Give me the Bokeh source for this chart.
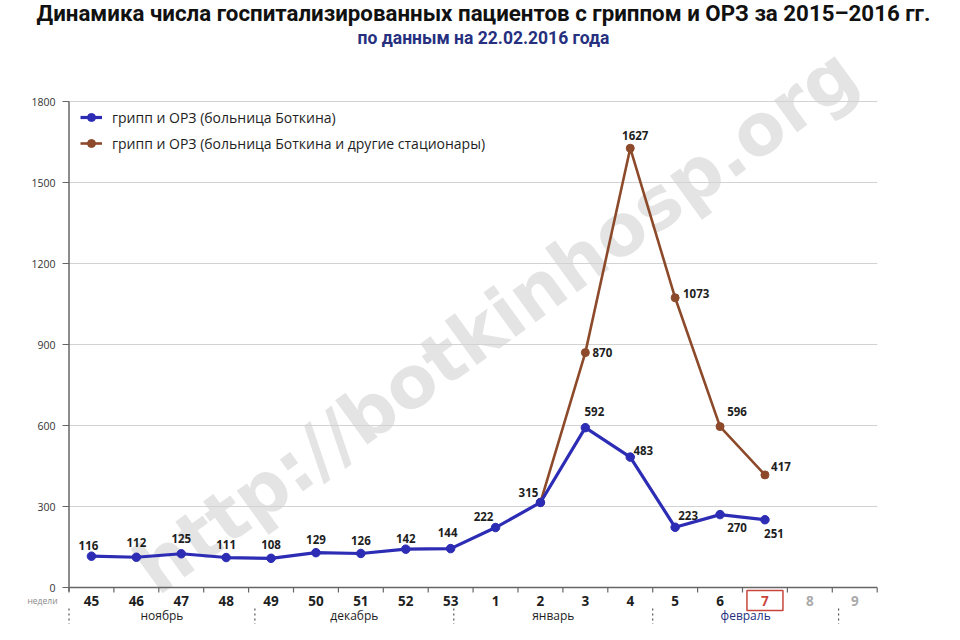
import math
from bokeh.plotting import figure
from bokeh.models import Range1d, Legend, LegendItem
from bokeh.core.properties import value
from bokeh.embed import file_html
from bokeh.resources import INLINE

# ---------------- data ----------------
week_labels = ["45", "46", "47", "48", "49", "50", "51", "52", "53",
               "1", "2", "3", "4", "5", "6", "7", "8", "9"]
botkin_values = [116, 112, 125, 111, 108, 129, 126, 142, 144,
                 222, 315, 592, 483, 223, 270, 251]
combined_weeks = ["2", "3", "4", "5", "6", "7"]
combined_values = [315, 870, 1627, 1073, 596, 417]
y_ticks = [0, 300, 600, 900, 1200, 1500, 1800]
month_names = ["ноябрь", "декабрь", "январь", "февраль"]
month_bounds = [0, 4.14, 8.57, 13.0, 17.14]   # in week units
current_week = "7"
future_weeks = ["8", "9"]

title_text = "Динамика числа госпитализированных пациентов с гриппом и ОРЗ за 2015–2016 гг."
subtitle_text = "по данным на 22.02.2016 года"
legend_labels = ["грипп и ОРЗ (больница Боткина)",
                 "грипп и ОРЗ (больница Боткина и другие стационары)"]

# ---------------- styles / layout ----------------
BLUE = "#2c2cb4"
BROWN = "#8d4a2b"
NAVY = "#26307f"
RED = "#c9453b"
W, H = 944, 624
X0, SLOT = 68.5, 44.9          # pixel of the first week boundary, pixels per week
Y0, Y1800 = 587.0, 101.0       # pixel of value 0 and of value 1800
YSC = (Y0 - Y1800) / 1800.0


def rx(px):  # canvas x pixel -> data x
    return (px - X0) / SLOT


def ry(py):  # canvas y pixel -> data y
    return (Y0 - py) / YSC


p = figure(width=W, height=H, output_backend="svg", toolbar_location=None,
           x_range=Range1d(rx(0), rx(W)), y_range=Range1d(ry(H), ry(0)),
           x_axis_location=None, y_axis_location=None, min_border=0)
p.grid.visible = False
p.outline_line_color = None
p.background_fill_color = "white"

idx = {w: i for i, w in enumerate(week_labels)}
nslots = len(week_labels)

# watermark
p.text(x=[rx(495)], y=[ry(320)], text=["http://botkinhosp.org"], angle=math.radians(36),
       text_align="center", text_baseline="middle", text_font=value("DejaVu Sans"),
       text_font_style="bold", text_font_size="72px", text_color="#e4e4e4")

# grid lines
grid_vals = [t for t in y_ticks if t > 0]
p.segment(x0=[0] * len(grid_vals), x1=[nslots] * len(grid_vals), y0=grid_vals, y1=grid_vals,
          line_color="#d2d2d2", line_width=1.2)

# y axis
p.segment(x0=[0], x1=[0], y0=[y_ticks[-1]], y1=[ry(Y0 + 4)], line_color="#666666", line_width=1.5)
p.segment(x0=[rx(62)] * len(y_ticks), x1=[0] * len(y_ticks), y0=y_ticks, y1=y_ticks,
          line_color="#666666", line_width=1.2)
p.text(x=[rx(55)] * len(y_ticks), y=y_ticks, text=[str(t) for t in y_ticks],
       text_align="right", text_baseline="middle", text_font=value("Open Sans"),
       text_font_size="10.5px", text_color="#333333")

# x axis
p.segment(x0=[0], x1=[nslots], y0=[0], y1=[0], line_color="#666666", line_width=1.5)
bx = list(range(nslots + 1))
p.segment(x0=bx, x1=bx, y0=[0] * len(bx), y1=[ry(Y0 + 5)] * len(bx),
          line_color="#666666", line_width=1.2)
week_colors = [RED if w == current_week else ("#aaaaaa" if w in future_weeks else "#1e1e1e")
               for w in week_labels]
WEEK_Y = Y0 + 13
p.text(x=[i + 0.5 for i in range(nslots)], y=[ry(WEEK_Y)] * nslots, text=week_labels,
       text_align="center", text_baseline="middle", text_font=value("Open Sans"),
       text_font_style="bold", text_font_size="13.5px", text_color=week_colors)
cw = idx[current_week] + 0.5
p.quad(left=[cw - 18 / SLOT], right=[cw + 18 / SLOT], top=[ry(WEEK_Y - 10)],
       bottom=[ry(WEEK_Y + 10)], fill_color=None, line_color=RED, line_width=1.5)
p.text(x=[rx(42)], y=[ry(WEEK_Y)], text=["недели"], text_align="center", text_baseline="middle",
       text_font=value("Open Sans"), text_font_size="8.5px", text_color="#8a8a8a")

# month separators & names
p.segment(x0=month_bounds, x1=month_bounds, y0=[ry(WEEK_Y + 8)] * len(month_bounds),
          y1=[ry(H + 4)] * len(month_bounds), line_color="#555555", line_width=1.2,
          line_dash="2 3")
mcent = [(month_bounds[i] + month_bounds[i + 1]) / 2 for i in range(len(month_names))]
p.text(x=mcent, y=[ry(WEEK_Y + 15)] * len(mcent), text=month_names, text_align="center",
       text_baseline="middle", text_font=value("Open Sans"), text_font_size="12px",
       text_color=["#1e1e1e", "#1e1e1e", "#1e1e1e", NAVY])

# series
bx_pts = [i + 0.5 for i in range(len(botkin_values))]
cx_pts = [idx[w] + 0.5 for w in combined_weeks]
r_cl = p.line(cx_pts, combined_values, line_color=BROWN, line_width=2.6)
r_cs = p.scatter(cx_pts, combined_values, size=8, fill_color=BROWN, line_color=BROWN)
r_bl = p.line(bx_pts, botkin_values, line_color=BLUE, line_width=3.2)
r_bs = p.scatter(bx_pts, botkin_values, size=8.5, fill_color=BLUE, line_color=BLUE)

# value labels
b_off = [(-3, -11), (0, -15), (0, -15), (0, -13), (0, -14), (0, -13), (0, -13), (0, -11),
         (-3, -16), (-12, -11), (-12, -10), (9, -16), (13, -7), (13, -12), (17, 13), (9, 14)]
c_off = [(17, 0), (5, -13), (21, -4), (17, -15), (16, -8)]
lab_style = dict(text_align="center", text_baseline="middle", text_font=value("Open Sans"),
                 text_font_style="bold", text_font_size="11.5px", text_color="#1e1e1e")
p.text(x=bx_pts, y=botkin_values, text=[str(v) for v in botkin_values],
       x_offset=[o[0] for o in b_off], y_offset=[o[1] for o in b_off], **lab_style)
p.text(x=cx_pts[1:], y=combined_values[1:], text=[str(v) for v in combined_values[1:]],
       x_offset=[o[0] for o in c_off], y_offset=[o[1] for o in c_off], **lab_style)

# titles
p.text(x=[rx(483)], y=[ry(12)], text=[title_text], text_align="center", text_baseline="middle",
       text_font=value("Roboto"), text_font_style="bold",
       text_font_size="22.3px", text_color="#111111")
p.text(x=[rx(483)], y=[ry(37)], text=[subtitle_text], text_align="center",
       text_baseline="middle", text_font=value("Roboto"),
       text_font_style="bold", text_font_size="17.5px", text_color=NAVY)

# legend
legend = Legend(items=[LegendItem(label=legend_labels[0], renderers=[r_bl, r_bs]),
                       LegendItem(label=legend_labels[1], renderers=[r_cl, r_cs])],
                location=(80, H - 153), padding=0, margin=0, spacing=6,
                glyph_width=22, glyph_height=20, label_height=20, label_standoff=10,
                border_line_color=None, background_fill_alpha=0,
                label_text_font="Open Sans", label_text_font_size="14px",
                label_text_color="#1e1e1e")
p.add_layout(legend)

open("out.html", "w").write(file_html(p, INLINE))
